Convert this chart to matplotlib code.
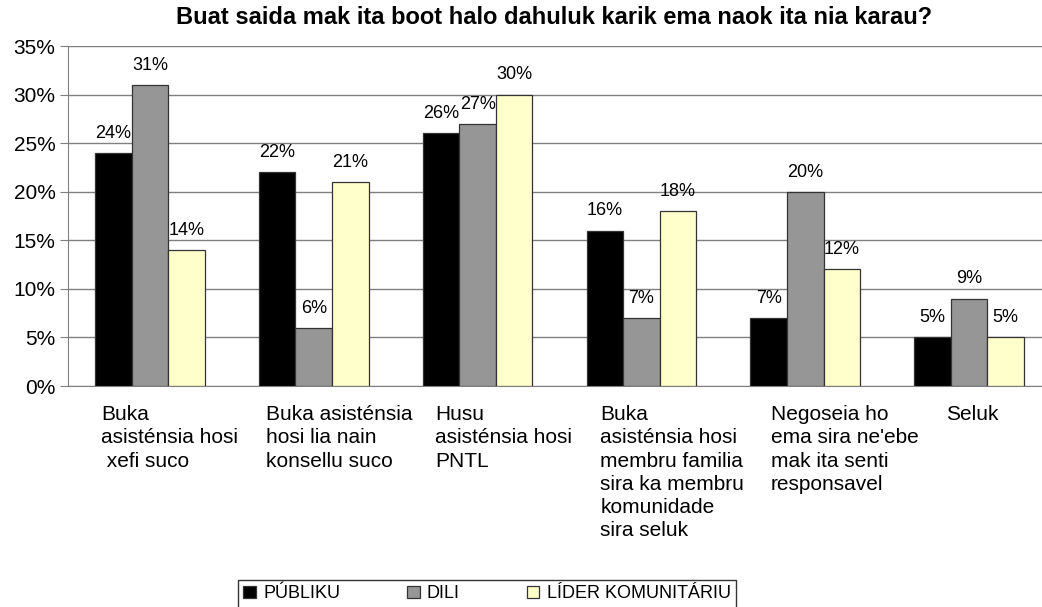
import matplotlib.pyplot as plt
import numpy as np

plt.rcParams['font.family'] = ['Liberation Sans', 'DejaVu Sans']

title = "Buat saida mak ita boot halo dahuluk karik ema naok ita nia karau?"
categories = [
    "Buka\nasisténsia hosi\n xefi suco",
    "Buka asisténsia\nhosi lia nain\nkonsellu suco",
    "Husu\nasisténsia hosi\nPNTL",
    "Buka\nasisténsia hosi\nmembru familia\nsira ka membru\nkomunidade\nsira seluk",
    "Negoseia ho\nema sira ne'ebe\nmak ita senti\nresponsavel",
    "Seluk",
]
series = ["PÚBLIKU", "DILI", "LÍDER KOMUNITÁRIU"]
publiku = [24, 22, 26, 16, 7, 5]
dili = [31, 6, 27, 7, 20, 9]
lider = [14, 21, 30, 18, 12, 5]

colors = ["#000000", "#969696", "#FFFFCC"]
# where each category label starts, relative to the category centre
label_offsets = [-0.30, -0.29, -0.26, -0.25, -0.21, -0.14]

fig = plt.figure(figsize=(10.42, 6.07), dpi=100)
ax = fig.add_axes([68 / 1042, 221 / 607, 983 / 1042, 340 / 607])

x = np.arange(len(categories))
w = 0.223
for i, (name, vals) in enumerate(zip(series, [publiku, dili, lider])):
    pos = x + (i - 1) * w
    ax.bar(pos, vals, w, color=colors[i], edgecolor="#333333", linewidth=0.9,
           label=name, zorder=3)
    for px, v in zip(pos, vals):
        ax.annotate(f"{v}%", (px, v), xytext=(0, 8), textcoords="offset points",
                    ha="center", va="bottom", fontsize=13)

ax.set_xlim(-0.5, len(categories) - 0.5)
ax.set_ylim(0, 35)
ax.set_yticks(range(0, 36, 5))
ax.set_yticklabels([f"{t}%" for t in range(0, 36, 5)], fontsize=15)
ax.yaxis.grid(True, color="#808080", linewidth=1, zorder=0)
ax.tick_params(axis="y", length=6, color="#808080", pad=3)
ax.set_xticks([])
for s in ["top", "right"]:
    ax.spines[s].set_visible(False)
for s in ["left", "bottom"]:
    ax.spines[s].set_color("#808080")

for xi, lab, off in zip(x, categories, label_offsets):
    ax.annotate(lab, (xi + off, 0), xytext=(0, -14), textcoords="offset points",
                ha="left", va="top", fontsize=15, linespacing=1.27,
                annotation_clip=False)

fig.text(554 / 1042, 1 - 18 / 607, title, ha="center", va="center",
         fontsize=17, fontweight="bold")

leg = fig.legend(loc="upper center", bbox_to_anchor=(487 / 1042, 1 - 571 / 607),
                 ncol=3, frameon=True, fancybox=False, fontsize=13,
                 handlelength=0.7, handleheight=0.7, handletextpad=0.4,
                 columnspacing=3.7, borderpad=0.3)
leg.get_frame().set_edgecolor("#000000")
leg.get_frame().set_linewidth(1)

fig.savefig("out.png", dpi=100)
